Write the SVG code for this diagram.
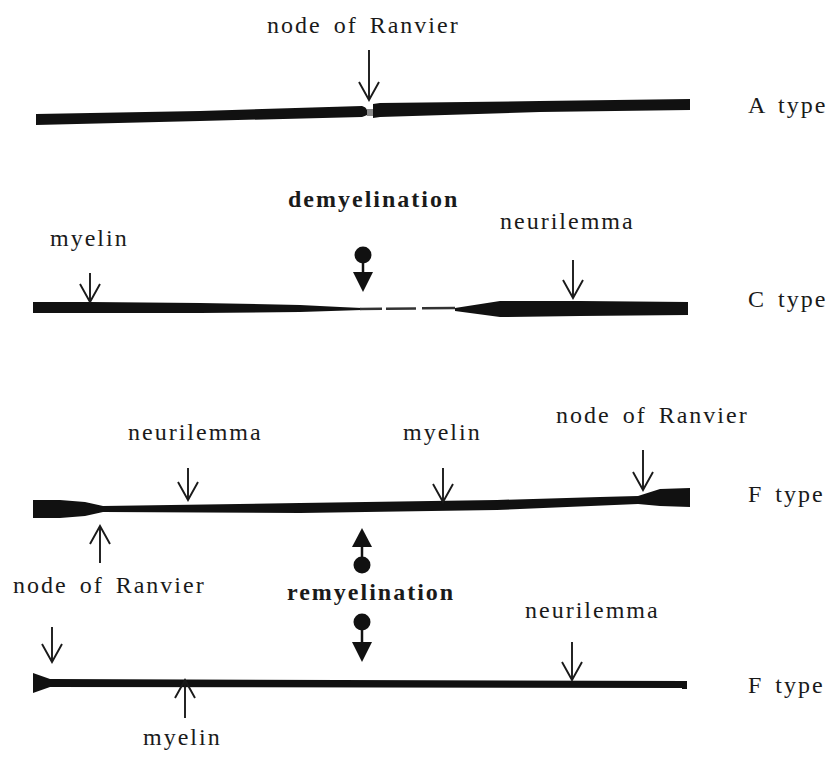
<svg xmlns="http://www.w3.org/2000/svg" width="835" height="758" viewBox="0 0 835 758">
  <style>
    .lbl { font-family: "Liberation Serif", "Times New Roman", serif; font-size: 24px; letter-spacing: 2px; word-spacing: 4px; fill: #1a1a1a; }
    .bold { font-weight: bold; letter-spacing: 2px; }
    .axon { fill: #111; }
    .ptr { stroke: #1a1a1a; stroke-width: 1.9; fill: none; marker-end: url(#vhead); }
    .stem { stroke: #111; stroke-width: 2.5; }
    .solid { fill: #111; }
  </style>
  <defs>
    <marker id="vhead" viewBox="-20 -12 22 24" markerWidth="22" markerHeight="24" refX="0" refY="0" markerUnits="userSpaceOnUse" orient="auto" overflow="visible">
      <path d="M-18,-10 L0,0 L-18,10" fill="none" stroke="#1a1a1a" stroke-width="1.9"/>
    </marker>
  </defs>
  <rect width="835" height="758" fill="#fff"/>

  <!-- A type fibre -->
  <g id="fiber-a">
    <path class="axon" d="M36,114 L200,111 L362,106 Q366,107 367,110 L367,115 Q365,116 362,117 L200,121 L36,125 Z"/>
    <rect x="367" y="109" width="6" height="7" fill="#8a8a8a"/>
    <path class="axon" d="M373,104 L380,103 L540,101 L690,99 L690,110 L540,112 L380,117 L373,118 Z"/>
    <text class="lbl" x="267" y="33">node of Ranvier</text>
    <text class="lbl" x="748" y="113">A type</text>
  </g>

  <!-- C type fibre (demyelinated) -->
  <g id="fiber-c">
    <path class="axon" d="M33,302 L90,302 L200,303 L300,305 L340,307 L362,308 L362,310 L300,312 L200,313 L33,313 Z"/>
    <path d="M360,309 L455,308" stroke="#333" stroke-width="2.5" stroke-dasharray="22,4,30,6,40"/>
    <path class="axon" d="M455,308 L500,301 L580,301 L688,302 L688,315 L580,316 L500,317 L455,311 Z"/>
    <text class="lbl" x="50" y="246">myelin</text>
    <text class="lbl" x="500" y="229">neurilemma</text>
    <text class="lbl" x="748" y="307">C type</text>
  </g>

  <!-- F type fibre (upper) -->
  <g id="fiber-f1">
    <path class="axon" d="M33,500 L60,500 L85,502 L103,506 L300,503 L497,500 L600,497 L638,496 L660,489 L690,488 L690,507 L660,506 L638,504 L497,510 L300,513 L103,512 L85,516 L60,518 L33,518 Z"/>
    <text class="lbl" x="128" y="440">neurilemma</text>
    <text class="lbl" x="403" y="440">myelin</text>
    <text class="lbl" x="556" y="423">node of Ranvier</text>
    <text class="lbl" x="13" y="593">node of Ranvier</text>
    <text class="lbl" x="748" y="502">F type</text>
  </g>

  <!-- F type fibre (lower, remyelinated) -->
  <g id="fiber-f2">
    <path class="axon" d="M33,673 L50,679 L685,681 L685,688 L50,687 L33,693 Z"/>
    <rect x="682" y="681" width="5" height="8" class="solid"/>
    <text class="lbl" x="525" y="618">neurilemma</text>
    <text class="lbl" x="143" y="745">myelin</text>
    <text class="lbl" x="748" y="693">F type</text>
  </g>

  <!-- transition markers -->
  <g id="demyelination">
    <text class="lbl bold" x="288" y="207">demyelination</text>
    <circle class="solid" cx="363" cy="255" r="8.5"/>
    <line class="stem" x1="363" y1="262" x2="363" y2="273"/>
    <polygon class="solid" points="353,272 373,272 363,292"/>
  </g>
  <g id="remyelination">
    <polygon class="solid" points="362,528 352,547 372,547"/>
    <line class="stem" x1="362" y1="546" x2="362" y2="558"/>
    <circle class="solid" cx="362" cy="565" r="8.5"/>
    <text class="lbl bold" x="287" y="600">remyelination</text>
    <circle class="solid" cx="362" cy="622" r="8.5"/>
    <line class="stem" x1="362" y1="629" x2="362" y2="643"/>
    <polygon class="solid" points="352,642 372,642 362,662"/>
  </g>

  <!-- pointers -->
  <g id="connectors">
    <line class="ptr" x1="369" y1="50" x2="369" y2="100"/>
    <line class="ptr" x1="90" y1="273" x2="90" y2="302"/>
    <line class="ptr" x1="573" y1="260" x2="573" y2="298"/>
    <line class="ptr" x1="188" y1="468" x2="188" y2="500"/>
    <line class="ptr" x1="443" y1="468" x2="443" y2="502"/>
    <line class="ptr" x1="643" y1="450" x2="643" y2="490"/>
    <line class="ptr" x1="100" y1="563" x2="100" y2="526"/>
    <line class="ptr" x1="52" y1="627" x2="52" y2="662"/>
    <line class="ptr" x1="185" y1="718" x2="185" y2="680"/>
    <line class="ptr" x1="572" y1="642" x2="572" y2="680"/>
  </g>
</svg>
